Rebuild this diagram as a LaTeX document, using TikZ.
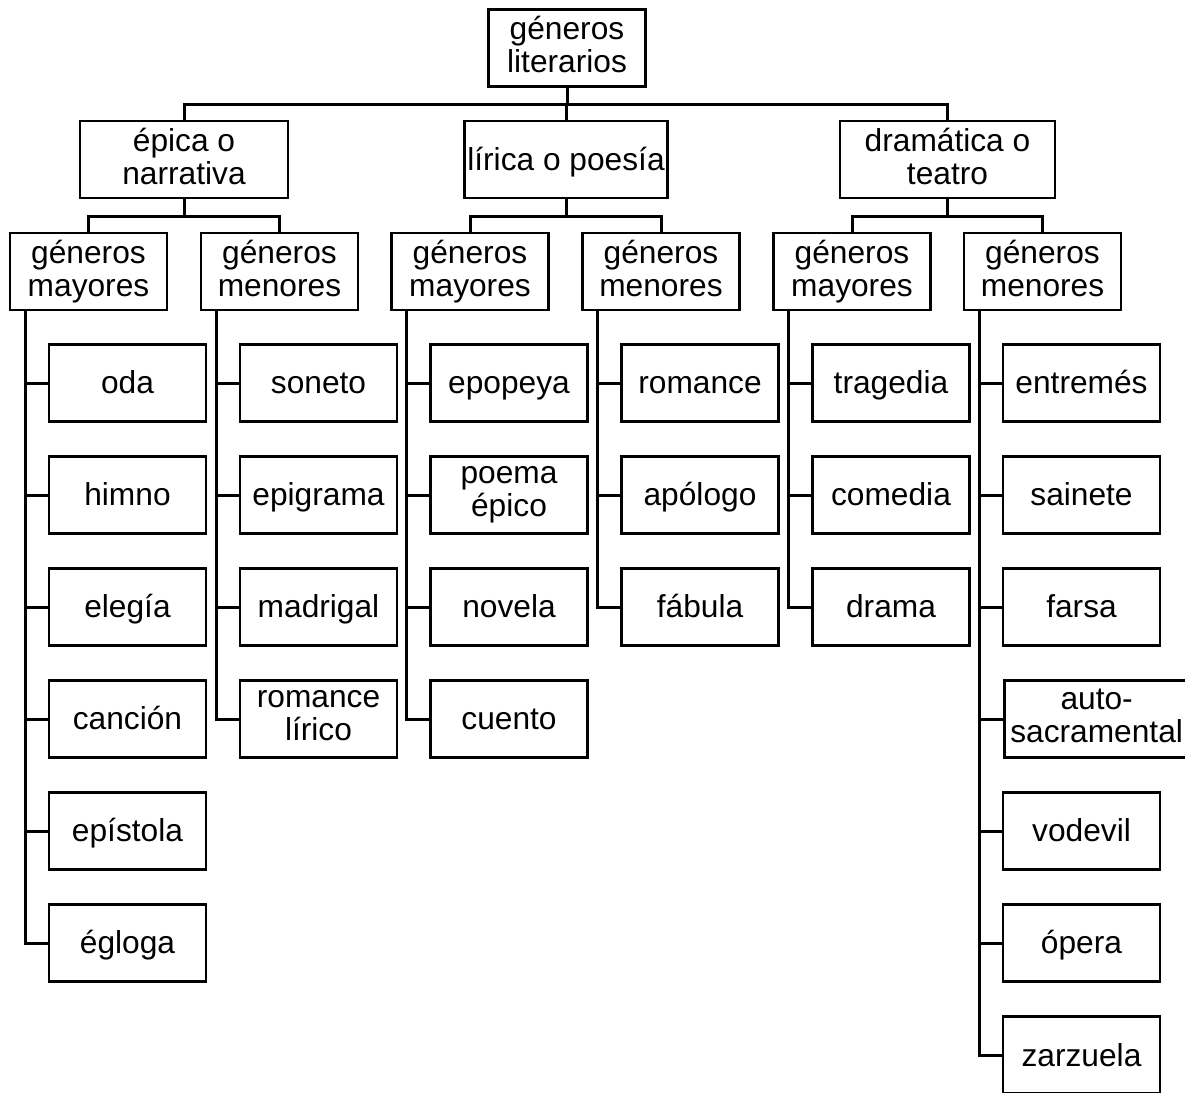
\documentclass[tikz,border=0pt]{standalone}
\usepackage{fontspec}
\setmainfont{Liberation Sans}
% strut with the font's ascent and descent, so every label sits alike
\newcommand\fstrut{\rule[-0.212em]{0pt}{1.117em}}
\begin{document}
\begin{tikzpicture}[x=1pt,y=-1pt,
  box/.style={draw, line width=2.6pt, rectangle, inner sep=0pt,
    minimum width=157pt, minimum height=77pt, align=center,
    font=\fontsize{31.7}{33}\selectfont,
    execute at begin node=\fstrut, execute at end node=\fstrut},
  link/.style={line width=3pt}]
\useasboundingbox (0,0) rectangle (1185,1092);
\clip (0,0) rectangle (1185,1092);

% top level
\node[box] (root) at (567,48) {géneros\\literarios};

% three main genres
\node[box, minimum width=208pt] (epica) at (184,159.5) {épica o\\narrativa};
\node[box, minimum width=203pt] (lirica) at (566,159.5) {lírica o poesía};
\node[box, minimum width=215pt] (drama) at (947.5,159.5) {dramática o\\teatro};

% major / minor groups
\node[box] (epM) at (88.5,271.5) {géneros\\mayores};
\node[box] (epm) at (279.5,271.5) {géneros\\menores};
\node[box] (liM) at (470,271.5) {géneros\\mayores};
\node[box] (lim) at (661,271.5) {géneros\\menores};
\node[box] (drM) at (852,271.5) {géneros\\mayores};
\node[box] (drm) at (1042.5,271.5) {géneros\\menores};

% leaves
\foreach \t [count=\i] in {oda,himno,elegía,canción,epístola,égloga}
  \node[box] (a\i) at (127.5,{383+112*(\i-1)}) {\t};
\foreach \t [count=\i] in {soneto,epigrama,madrigal,{romance\\lírico}}
  \node[box] (b\i) at (318.5,{383+112*(\i-1)}) {\t};
\foreach \t [count=\i] in {epopeya,{poema\\épico},novela,cuento}
  \node[box] (c\i) at (509,{383+112*(\i-1)}) {\t};
\foreach \t [count=\i] in {romance,apólogo,fábula}
  \node[box] (d\i) at (700,{383+112*(\i-1)}) {\t};
\foreach \t [count=\i] in {tragedia,comedia,drama}
  \node[box] (e\i) at (891,{383+112*(\i-1)}) {\t};
\node[box] (f1) at (1081.5,383) {entremés};
\node[box] (f2) at (1081.5,495) {sainete};
\node[box] (f3) at (1081.5,607) {farsa};
\node[box, anchor=west, inner xsep=6pt] (f4) at (1003,719) {auto-\\sacramental};
\node[box] (f5) at (1081.5,831) {vodevil};
\node[box] (f6) at (1081.5,943) {ópera};
\node[box] (f7) at (1081.5,1055) {zarzuela};

% connectors: root to main genres
\coordinate (bar0) at (567,104);
\draw[link] (root) -- (bar0);
\draw[link] (epica.north) |- (bar0) -| (drama.north);
\draw[link] (lirica.north) -- (lirica.north |- bar0);

% main genres to groups
\coordinate (bar1) at (184,216);
\coordinate (bar2) at (566,216);
\coordinate (bar3) at (947.5,216);
\draw[link] (epica) -- (bar1);
\draw[link] (epM.north) |- (bar1) -| (epm.north);
\draw[link] (lirica) -- (bar2);
\draw[link] (liM.north) |- (bar2) -| (lim.north);
\draw[link] (drama) -- (bar3);
\draw[link] (drM.north) |- (bar3) -| (drm.north);

% groups to leaves
\coordinate (v1) at ([xshift=-63.5pt]epM.south);
\coordinate (v2) at ([xshift=-63.5pt]epm.south);
\coordinate (v3) at ([xshift=-63.5pt]liM.south);
\coordinate (v4) at ([xshift=-63.5pt]lim.south);
\coordinate (v5) at ([xshift=-63.5pt]drM.south);
\coordinate (v6) at ([xshift=-63.5pt]drm.south);
\draw[link] (v1) |- (a6.west);
\foreach \i in {1,...,5} \draw[link] (a\i.west) -- (a\i.west -| v1);
\draw[link] (v2) |- (b4.west);
\foreach \i in {1,...,3} \draw[link] (b\i.west) -- (b\i.west -| v2);
\draw[link] (v3) |- (c4.west);
\foreach \i in {1,...,3} \draw[link] (c\i.west) -- (c\i.west -| v3);
\draw[link] (v4) |- (d3.west);
\foreach \i in {1,2} \draw[link] (d\i.west) -- (d\i.west -| v4);
\draw[link] (v5) |- (e3.west);
\foreach \i in {1,2} \draw[link] (e\i.west) -- (e\i.west -| v5);
\draw[link] (v6) |- (f7.west);
\foreach \i in {1,...,6} \draw[link] (f\i.west) -- (f\i.west -| v6);
\end{tikzpicture}
\end{document}
